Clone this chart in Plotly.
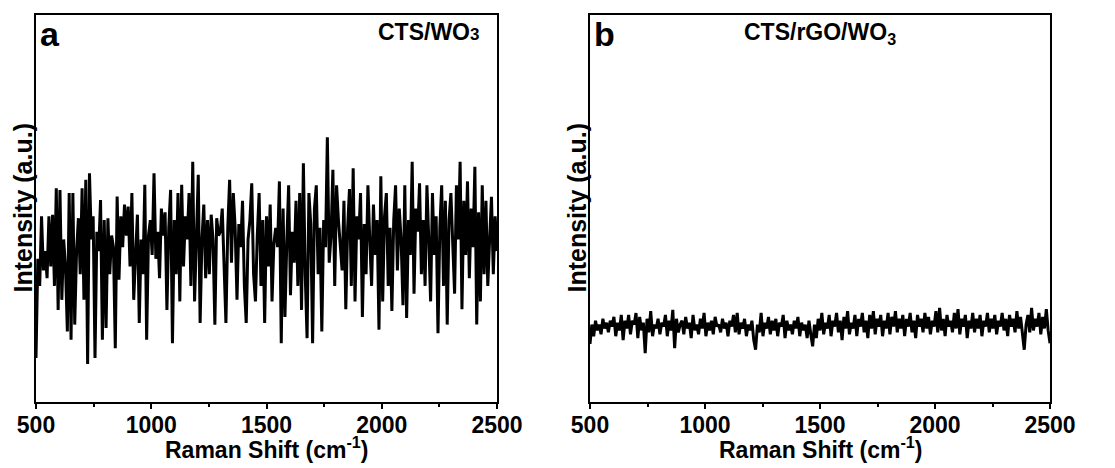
import plotly.graph_objects as go

# Raman shift grid (cm-1)
shift = list(range(500, 2501, 8))

# Panel a: CTS/WO3 intensity (a.u.)
int_a = [
    114, 370, 300, 480, 340, 390, 320, 480, 350, 484,
    300, 552, 238, 548, 264, 420, 350, 182, 540, 161,
    540, 200, 390, 475, 330, 552, 264, 574, 98, 591,
    420, 480, 114, 440, 390, 522, 161, 470, 191, 475,
    330, 430, 400, 139, 531, 316, 480, 400, 510, 430,
    505, 350, 540, 264, 380, 484, 204, 420, 330, 561,
    161, 430, 470, 380, 591, 370, 440, 320, 500, 430,
    490, 238, 450, 548, 152, 470, 330, 540, 260, 561,
    350, 480, 420, 540, 300, 621, 260, 440, 587, 204,
    420, 510, 320, 470, 330, 484, 420, 200, 475, 430,
    440, 500, 330, 204, 450, 574, 360, 540, 450, 264,
    460, 400, 520, 300, 204, 420, 470, 565, 330, 260,
    430, 540, 300, 470, 204, 480, 350, 510, 260, 410,
    450, 400, 570, 152, 500, 220, 410, 560, 276, 440,
    360, 520, 300, 540, 238, 617, 330, 165, 540, 460,
    152, 500, 560, 330, 450, 182, 470, 400, 684, 360,
    430, 600, 300, 560, 470, 410, 340, 520, 240, 450,
    550, 300, 604, 260, 480, 420, 540, 220, 460, 330,
    560, 420, 300, 510, 380, 470, 187, 583, 260, 480,
    540, 300, 450, 235, 470, 560, 340, 500, 420, 250,
    560, 217, 470, 380, 621, 280, 500, 440, 565, 330,
    470, 300, 560, 420, 260, 540, 380, 480, 178, 450,
    560, 300, 520, 200, 470, 540, 390, 280, 560, 420,
    621, 240, 520, 380, 570, 320, 500, 400, 608, 200,
    490, 260, 560, 330, 520, 300, 420, 530, 330, 480,
    390,
]

# Panel b: CTS/rGO/WO3 intensity (a.u.)
int_b = [
    150, 200, 170, 210, 185, 200, 175, 215, 190, 205,
    180, 210, 195, 220, 170, 205, 185, 225, 160, 210,
    190, 225, 175, 210, 200, 230, 165, 220, 185, 205,
    126, 215, 180, 235, 170, 200, 190, 215, 175, 205,
    195, 225, 170, 210, 185, 238, 139, 215, 180, 200,
    210, 175, 220, 190, 205, 165, 225, 185, 200, 175,
    215, 190, 230, 170, 205, 185, 210, 175, 220, 195,
    200, 180, 215, 190, 205, 170, 210, 195, 225, 180,
    230, 175, 205, 190, 215, 170, 200, 185, 210, 160,
    135, 200, 180, 230, 170, 205, 190, 220, 175, 210,
    185, 215, 170, 205, 195, 225, 165, 210, 185, 200,
    175, 210, 190, 220, 170, 205, 185, 200, 165, 210,
    175, 144, 200, 165, 215, 185, 230, 175, 205, 190,
    225, 170, 210, 195, 230, 180, 210, 160, 220, 190,
    235, 175, 205, 190, 225, 170, 215, 195, 230, 180,
    210, 165, 225, 190, 235, 175, 215, 195, 225, 170,
    210, 190, 230, 175, 220, 195, 235, 180, 215, 190,
    225, 170, 215, 195, 230, 180, 210, 165, 225, 195,
    215, 180, 230, 190, 220, 175, 210, 195, 235, 180,
    243, 185, 215, 170, 225, 195, 210, 180, 230, 190,
    240, 175, 215, 195, 225, 165, 210, 190, 230, 180,
    215, 190, 225, 170, 210, 195, 230, 180, 215, 190,
    225, 175, 210, 195, 230, 185, 215, 170, 225, 195,
    215, 180, 235, 190, 220, 175, 135, 200, 225, 180,
    243, 185, 215, 195, 230, 175, 220, 190, 240, 185,
    152,
]

x_ticks = [500, 1000, 1500, 2000, 2500]
panel_letters = ["a", "b"]
panel_names = ["CTS/WO<span style='font-size:17px'>3</span>", "CTS/rGO/WO<sub>3</sub>"]
x_title = "Raman Shift (cm<sup>-1</sup>)"
y_title = "Intensity (a.u.)"

FONT = "Arial, 'Liberation Sans', sans-serif"
BOLD = dict(family=FONT, color="black", weight="bold")

# page body adds an 8 px offset; compensate in the margins
OFF = 8
W, H = 1115, 468
L, T = 36 - OFF, 15 - OFF
plot_w, plot_h = 1014, 387
R, B = W - L - plot_w, H - T - plot_h
dom_a = [0.0, 461 / plot_w]
dom_b = [554 / plot_w, 1.0]

fig = go.Figure()
fig.add_trace(go.Scatter(x=shift, y=int_a, mode="lines", xaxis="x", yaxis="y",
                         line=dict(color="black", width=3), showlegend=False))
fig.add_trace(go.Scatter(x=shift, y=int_b, mode="lines", xaxis="x2", yaxis="y2",
                         line=dict(color="black", width=3), showlegend=False))

xcommon = dict(
    range=[500, 2500], tickvals=x_ticks,
    ticks="outside", ticklen=5, tickwidth=2, tickcolor="black",
    ticklabelstandoff=-4,
    minor=dict(dtick=250, tick0=500, ticks="outside", ticklen=3, tickwidth=1.5, tickcolor="black"),
    showline=True, linewidth=2, linecolor="black", mirror=True,
    showgrid=False, zeroline=False, automargin=False,
    tickfont=dict(size=23, **BOLD),
)
ycommon = dict(
    range=[0, 1000], showticklabels=False, ticks="",
    showline=True, linewidth=2, linecolor="black", mirror=True,
    showgrid=False, zeroline=False, automargin=False,
)

fig.update_layout(
    width=W, height=H,
    margin=dict(l=L, r=R, t=T, b=B),
    paper_bgcolor="white", plot_bgcolor="white",
    xaxis=dict(domain=dom_a, anchor="y", **xcommon),
    yaxis=dict(domain=[0, 1], anchor="x", **ycommon),
    xaxis2=dict(domain=dom_b, anchor="y2", **xcommon),
    yaxis2=dict(domain=[0, 1], anchor="x2", **ycommon),
)

xrefs = ["x domain", "x2 domain"]
yrefs = ["y domain", "y2 domain"]
doms = [dom_a, dom_b]
name_x = [0.965, 0.5]
name_anchor = ["right", "center"]
ytitle_px = [22, 576]   # screen px
for k in range(2):
    fig.add_annotation(xref=xrefs[k], yref=yrefs[k], x=0.005, y=1.005,
                       xanchor="left", yanchor="top", showarrow=False,
                       text=panel_letters[k], font=dict(size=34, **BOLD))
    fig.add_annotation(xref=xrefs[k], yref=yrefs[k], x=name_x[k], y=0.995,
                       xanchor=name_anchor[k], yanchor="top", showarrow=False,
                       text=panel_names[k], font=dict(size=23, **BOLD))
    # x-axis title (centre at screen y ~ 448)
    fig.add_annotation(xref="paper", yref="paper",
                       x=(doms[k][0] + doms[k][1]) / 2, y=-(448 - 402) / plot_h,
                       xanchor="center", yanchor="middle", showarrow=False,
                       text=x_title, font=dict(size=23, **BOLD))
    # y-axis title
    fig.add_annotation(xref="paper", yref="paper",
                       x=(ytitle_px[k] - 36) / plot_w, y=0.5,
                       xanchor="center", yanchor="middle", showarrow=False, textangle=-90,
                       text=y_title, font=dict(size=25, **BOLD))

fig.write_html("out.html")
